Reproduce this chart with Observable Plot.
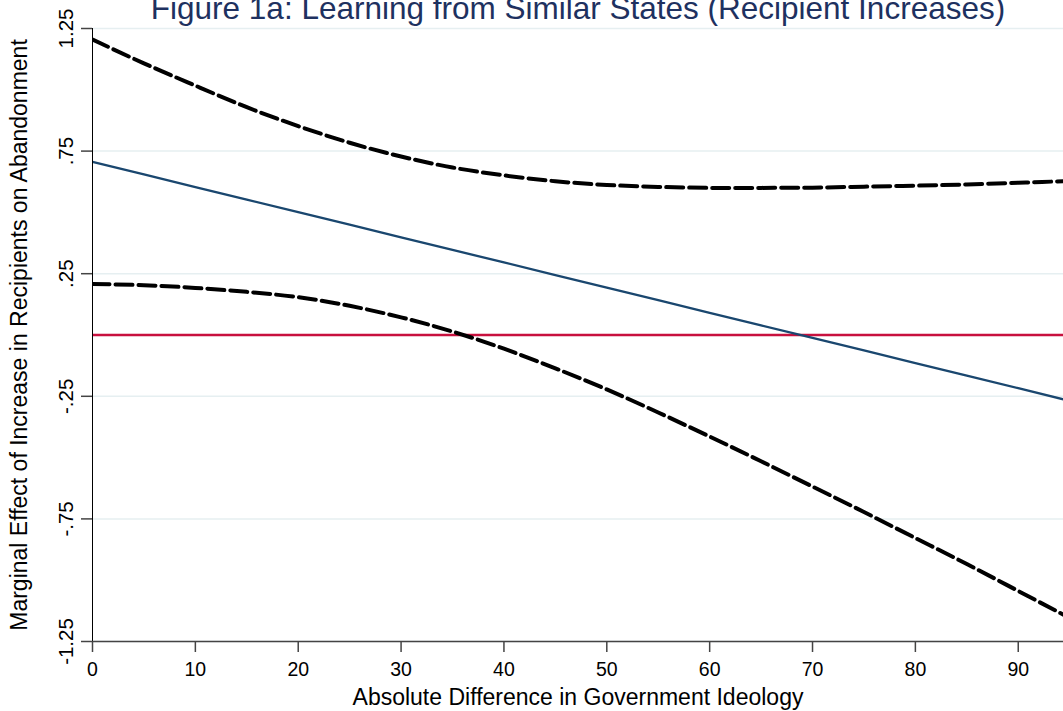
<!DOCTYPE html>
<html>
<head>
<meta charset="utf-8">
<script src="https://cdn.jsdelivr.net/npm/d3@7"></script>
<script src="https://cdn.jsdelivr.net/npm/@observablehq/plot@0.6"></script>
<style>
  html, body { margin: 0; padding: 0; background: #fff; }
  #chart { width: 1063px; height: 711px; overflow: hidden; }
</style>
</head>
<body>
<div id="chart"></div>
<script>
const titleText = "Figure 1a: Learning from Similar States (Recipient Increases)";
const xTitle = "Absolute Difference in Government Ideology";
const yTitle = "Marginal Effect of Increase in Recipients on Abandonment";

const xs      = [0, 5, 10, 15, 20, 25, 30, 35, 40, 45, 50, 55, 60, 65, 70, 75, 80, 85, 90, 95];
const effect  = [0.706, 0.655, 0.603, 0.552, 0.501, 0.450, 0.398, 0.347, 0.296, 0.244, 0.193, 0.142, 0.090, 0.039, -0.012, -0.063, -0.115, -0.166, -0.217, -0.269];
const upperCI = [1.205, 1.108, 1.017, 0.929, 0.852, 0.784, 0.728, 0.683, 0.651, 0.627, 0.612, 0.604, 0.600, 0.600, 0.601, 0.605, 0.609, 0.614, 0.621, 0.628];
const lowerCI = [0.208, 0.203, 0.192, 0.176, 0.154, 0.119, 0.072, 0.014, -0.056, -0.136, -0.222, -0.316, -0.414, -0.515, -0.618, -0.722, -0.828, -0.934, -1.044, -1.154];

const xTicks = [0, 10, 20, 30, 40, 50, 60, 70, 80, 90];
const yTicks = [-1.25, -0.75, -0.25, 0.25, 0.75, 1.25];
const yTickLabels = ["-1.25", "-.75", "-.25", ".25", ".75", "1.25"];

const rows = xs.map((x, i) => ({x, effect: effect[i], upper: upperCI[i], lower: lowerCI[i]}));
const yLabelOf = new Map(yTicks.map((t, i) => [t, yTickLabels[i]]));

const chart = Plot.plot({
  width: 1063,
  height: 711,
  marginLeft: 92,
  marginTop: 28,
  marginBottom: 70,
  marginRight: 0,
  style: {fontFamily: "'Liberation Sans', Arial, sans-serif", fontSize: "20px", background: "#fff", color: "#000"},
  x: {domain: [0, 94.4]},
  y: {domain: [-1.25, 1.25]},
  marks: [
    Plot.gridY(yTicks, {stroke: "#e6eff1", strokeOpacity: 1, strokeWidth: 1.5}),
    Plot.ruleY([0], {stroke: "#c8103e", strokeWidth: 2.5}),
    Plot.line(rows, {x: "x", y: "effect", stroke: "#1a476f", strokeWidth: 2.3, clip: true}),
    Plot.line(rows, {x: "x", y: "upper", stroke: "#000", strokeWidth: 4, strokeDasharray: "17,6", curve: "natural", clip: true}),
    Plot.line(rows, {x: "x", y: "lower", stroke: "#000", strokeWidth: 4, strokeDasharray: "17,6", curve: "natural", clip: true}),
    Plot.ruleX([0], {stroke: "#000", strokeWidth: 1}),
    Plot.ruleY([-1.25], {stroke: "#444", strokeWidth: 1.5}),
    Plot.axisY(yTicks, {
      tickFormat: d => yLabelOf.get(d),
      tickRotate: -90,
      tickSize: 11,
      tickPadding: 9,
      fontSize: 20.5,
      stroke: "#444",
      strokeWidth: 1.5,
      label: null
    }),
    Plot.axisX(xTicks, {
      tickSize: 11,
      tickPadding: 10,
      fontSize: 19.5,
      stroke: "#444",
      strokeWidth: 1.5,
      label: null
    }),
    Plot.text([titleText], {frameAnchor: "top", lineAnchor: "bottom", dy: -10, fontSize: 31.5, fill: "#1e3160"}),
    Plot.text([xTitle], {frameAnchor: "bottom", lineAnchor: "bottom", dy: 63, fontSize: 23, fill: "#000"}),
    Plot.text([yTitle], {frameAnchor: "left", textAnchor: "middle", rotate: -90, dx: -73, fontSize: 23, fill: "#000"})
  ]
});
document.getElementById("chart").appendChild(chart);
</script>
</body>
</html>
